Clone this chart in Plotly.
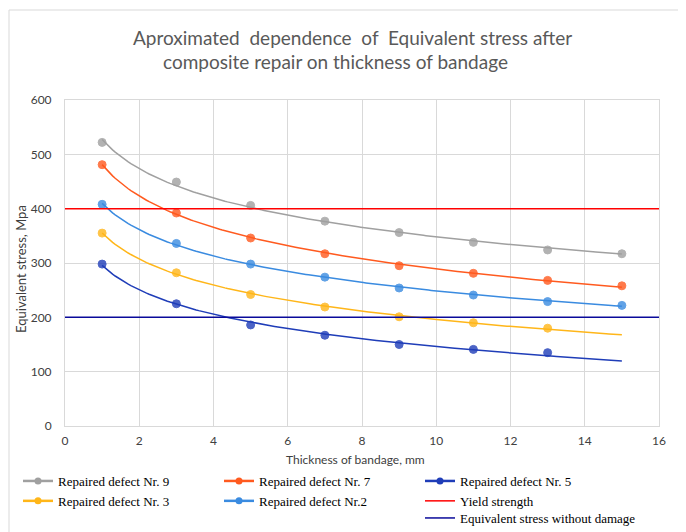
import numpy as np
import plotly.graph_objects as go

thickness = [1, 3, 5, 7, 9, 11, 13, 15]
series_names = ["Repaired defect Nr. 9", "Repaired defect Nr. 7", "Repaired defect Nr. 5",
                "Repaired defect Nr. 3", "Repaired defect Nr.2"]
nr9 = [522, 449, 406, 377, 356, 338, 324, 317]
nr7 = [481, 392, 346, 317, 295, 281, 268, 258]
nr5 = [298, 225, 186, 167, 150, 141, 135]
nr3 = [355, 282, 242, 219, 201, 190, 180]
nr2 = [408, 336, 298, 274, 254, 241, 229, 222]
series_values = [nr9, nr7, nr5, nr3, nr2]
colors = ["#A0A0A0", "#FF5A1F", "#1F3DB8", "#FFB619", "#3A8BE0"]
yield_strength = 400
no_damage = 200
x_range = [0, 16]
trend_range = [1, 15]
title_lines = ["Aproximated  dependence  of  Equivalent stress after",
               "composite repair on thickness of bandage"]

fig = go.Figure()

# logarithmic trendlines (y = a*ln(x) + b), fitted to each series
xs = np.linspace(trend_range[0], trend_range[1], 200)
for name, vals, col in zip(series_names, series_values, colors):
    xd = np.array(thickness[:len(vals)], dtype=float)
    yd = np.array(vals, dtype=float)
    a, b = np.polyfit(np.log(xd), yd, 1)
    ys = a * np.log(xs) + b
    fig.add_trace(go.Scatter(x=xs, y=ys, mode="lines", line=dict(color=col, width=1.5),
                             showlegend=False, hoverinfo="skip", legendgroup=name))
    fig.add_trace(go.Scatter(x=xd, y=yd, mode="markers",
                             marker=dict(color=col, size=8, opacity=0.8,
                                         line=dict(color=col, width=1)),
                             showlegend=False, legendgroup=name, name=name))

# legend entries (line + marker)
for name, col in zip(series_names, colors):
    fig.add_trace(go.Scatter(x=[None], y=[None], mode="lines+markers", name=name,
                             line=dict(color=col, width=2.5),
                             marker=dict(color=col, size=7), legendgroup=name))

fig.add_trace(go.Scatter(x=x_range, y=[yield_strength] * 2, mode="lines",
                         name="Yield strength", line=dict(color="#FF0000", width=1.5)))
fig.add_trace(go.Scatter(x=x_range, y=[no_damage] * 2, mode="lines",
                         name="Equivalent stress without damage", legend="legend2",
                         line=dict(color="#0A0A9A", width=1.5)))

OFF = 8  # page body margin
W, H = 686 - OFF, 532 - OFF
# plot area in screen pixels
SX0, SX1, SY0, SY1 = 65, 659, 100, 426
L, R, T, B = SX0 - OFF, W - (SX1 - OFF), SY0 - OFF, H - (SY1 - OFF)
pw, ph = W - L - R, H - T - B

def px(xs_):
    return (xs_ - SX0) / pw

def py(ys_):
    return (SY1 - ys_) / ph

tickfont = dict(family="Lato, Open Sans, sans-serif", size=12, color="#404040")
legfont = dict(family="Liberation Serif, Times New Roman, serif", size=13, color="#000000")

fig.update_layout(
    width=W, height=H,
    margin=dict(l=L, r=R, t=T, b=B, autoexpand=False),
    paper_bgcolor="white", plot_bgcolor="white",
    xaxis=dict(range=x_range, dtick=2, showgrid=True, gridcolor="#D9D9D9", gridwidth=1,
               showline=True, linecolor="#D9D9D9", mirror=True, zeroline=False,
               tickfont=tickfont, ticks="", ticklabelstandoff=4),
    yaxis=dict(range=[0, 600], dtick=100, showgrid=True, gridcolor="#D9D9D9", gridwidth=1,
               showline=True, linecolor="#D9D9D9", mirror=True, zeroline=False,
               tickfont=tickfont, ticks="", ticklabelstandoff=10),
    legend=dict(orientation="h", x=px(18), y=py(466), xanchor="left", yanchor="top",
                entrywidth=156, entrywidthmode="pixels", traceorder="normal",
                font=legfont, bgcolor="rgba(0,0,0,0)", tracegroupgap=0, itemwidth=30),
    legend2=dict(orientation="h", x=px(420), y=py(503), xanchor="left", yanchor="top",
                 font=legfont, bgcolor="rgba(0,0,0,0)", itemwidth=30),
    showlegend=True,
)

titlefont = dict(family="Lato, Open Sans, sans-serif", size=19, color="#595959")
fig.add_annotation(text=title_lines[0], xref="paper", yref="paper",
                   x=px(352), y=py(37), xanchor="center", yanchor="middle", showarrow=False,
                   font=titlefont)
fig.add_annotation(text=title_lines[1], xref="paper", yref="paper",
                   x=px(335), y=py(61), xanchor="center", yanchor="middle", showarrow=False,
                   font=titlefont)

fig.add_annotation(text="Thickness of bandage, mm", xref="paper", yref="paper",
                   x=px(355), y=py(459), xanchor="center", yanchor="middle", showarrow=False,
                   font=dict(family="Lato, Open Sans, sans-serif", size=12, color="#404040"))
fig.add_annotation(text="Equivalent stress, Mpa", xref="paper", yref="paper",
                   x=px(21), y=py(269), xanchor="center", yanchor="middle", showarrow=False,
                   textangle=-90,
                   font=dict(family="Lato, Open Sans, sans-serif", size=13, color="#404040"))

fig.add_shape(type="rect", xref="paper", yref="paper",
              x0=px(9), x1=px(682), y0=py(560), y1=py(10),
              line=dict(color="#D9D9D9", width=1), fillcolor="rgba(0,0,0,0)", layer="below")

fig.write_html("out.html")
